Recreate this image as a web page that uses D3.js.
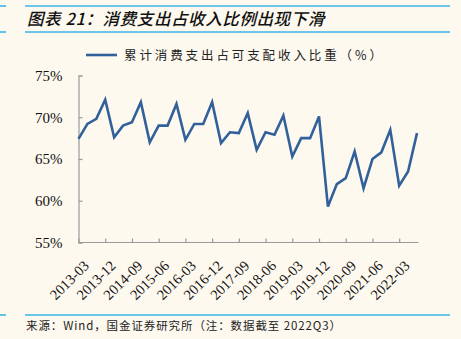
<!DOCTYPE html>
<html>
<head>
<meta charset="utf-8">
<script src="https://cdn.jsdelivr.net/npm/d3@7"></script>
<style>
  html, body { margin: 0; padding: 0; background: #fdf9ef; }
  svg { display: block; }
</style>
</head>
<body>
<script>
const categories = [
  "2013-03","2013-06","2013-09","2013-12",
  "2014-03","2014-06","2014-09","2014-12",
  "2015-03","2015-06","2015-09","2015-12",
  "2016-03","2016-06","2016-09","2016-12",
  "2017-03","2017-06","2017-09","2017-12",
  "2018-03","2018-06","2018-09","2018-12",
  "2019-03","2019-06","2019-09","2019-12",
  "2020-03","2020-06","2020-09","2020-12",
  "2021-03","2021-06","2021-09","2021-12",
  "2022-03","2022-06","2022-09"
];
const shareValues = [
  67.4, 69.2, 69.8, 72.1,
  67.6, 69.0, 69.4, 71.8,
  67.0, 69.0, 69.0, 71.6,
  67.3, 69.2, 69.2, 71.8,
  66.9, 68.2, 68.1, 70.5,
  66.1, 68.2, 67.9, 70.2,
  65.3, 67.5, 67.5, 70.1,
  59.3, 62.0, 62.7, 65.9,
  61.5, 65.0, 65.8, 68.5,
  61.8, 63.5, 68.1
];
const yTicks = [55, 60, 65, 70, 75];
const tickLabels = categories.filter((d, i) => i % 3 === 0);
const seriesName = "累计消费支出占可支配收入比重（%）";
const titleText = "图表 21：消费支出占收入比例出现下滑";
const sourceText = "来源：Wind，国金证券研究所（注：数据截至 2022Q3）";

const W = 461, H = 339;
const svg = d3.select("body").append("svg").attr("width", W).attr("height", H);
svg.append("rect").attr("width", W).attr("height", H).attr("fill", "#fdf9ef");

const blue = "#3cb3e6";
// header / footer rules
[[6], [32], [315]].forEach(([y]) => {
  svg.append("line").attr("x1", 25).attr("x2", 450).attr("y1", y).attr("y2", y)
    .attr("stroke", blue).attr("stroke-width", 1.6);
  svg.append("line").attr("x1", 0).attr("x2", 6).attr("y1", y).attr("y2", y)
    .attr("stroke", blue).attr("stroke-width", 1.6);
});

svg.append("text").attr("x", 27).attr("y", 25)
  .attr("font-family", "'Noto Sans CJK SC', sans-serif")
  .attr("font-size", 16.5).attr("font-weight", 500).attr("font-style", "italic")
  .attr("letter-spacing", 0.6)
  .attr("fill", "#111")
  .text(titleText);

svg.append("text").attr("x", 26).attr("y", 330)
  .attr("font-family", "'Noto Sans CJK SC', sans-serif")
  .attr("font-size", 11.5).attr("letter-spacing", 0.9).attr("fill", "#222")
  .text(sourceText);

// scales
const x = d3.scalePoint().domain(categories).range([78.5, 417]).padding(0);
const y = d3.scaleLinear().domain([55, 75]).range([242.5, 75.5]);

const axisColor = "#9a9a9a";
// y axis
const yAxis = svg.append("g").attr("transform", "translate(78.5,0)")
  .call(d3.axisLeft(y).tickValues(yTicks).tickSize(-4).tickSizeOuter(-4).tickPadding(16)
    .tickFormat(d => d + "%"));
yAxis.select(".domain").attr("stroke", axisColor).attr("stroke-width", 1.2);
yAxis.selectAll(".tick line").attr("stroke", axisColor).attr("stroke-width", 1.2);
yAxis.selectAll(".tick text").attr("font-family", "'Liberation Serif', 'Times New Roman', serif")
  .attr("font-size", 15).attr("fill", "#111");

// x axis
const xAxis = svg.append("g").attr("transform", "translate(0,242.5)")
  .call(d3.axisBottom(x).tickValues(tickLabels).tickSize(-4).tickSizeOuter(0));
xAxis.select(".domain").attr("stroke", axisColor).attr("stroke-width", 1.2)
  .attr("d", "M78.5,0H418.5");
xAxis.selectAll(".tick line").attr("stroke", axisColor).attr("stroke-width", 1.2);
xAxis.selectAll(".tick text")
  .attr("font-family", "'Liberation Serif', 'Times New Roman', serif")
  .attr("font-size", 14.5).attr("fill", "#111")
  .attr("text-anchor", "end")
  .attr("dy", 0).attr("y", 0)
  .attr("transform", "translate(11,24) rotate(-45)");

// line
const line = d3.line().x((d, i) => x(categories[i])).y(d => y(d));
svg.append("path").datum(shareValues)
  .attr("d", line).attr("fill", "none")
  .attr("stroke", "#32609a").attr("stroke-width", 2.6)
  .attr("stroke-linejoin", "miter");

// legend
svg.append("line").attr("x1", 86).attr("x2", 117).attr("y1", 55).attr("y2", 55)
  .attr("stroke", "#32609a").attr("stroke-width", 2.6);
svg.append("text").attr("x", 124).attr("y", 60)
  .attr("font-family", "'Noto Sans CJK SC', sans-serif")
  .attr("font-size", 12.5).attr("letter-spacing", 2.9).attr("fill", "#222")
  .text(seriesName);
</script>
</body>
</html>
